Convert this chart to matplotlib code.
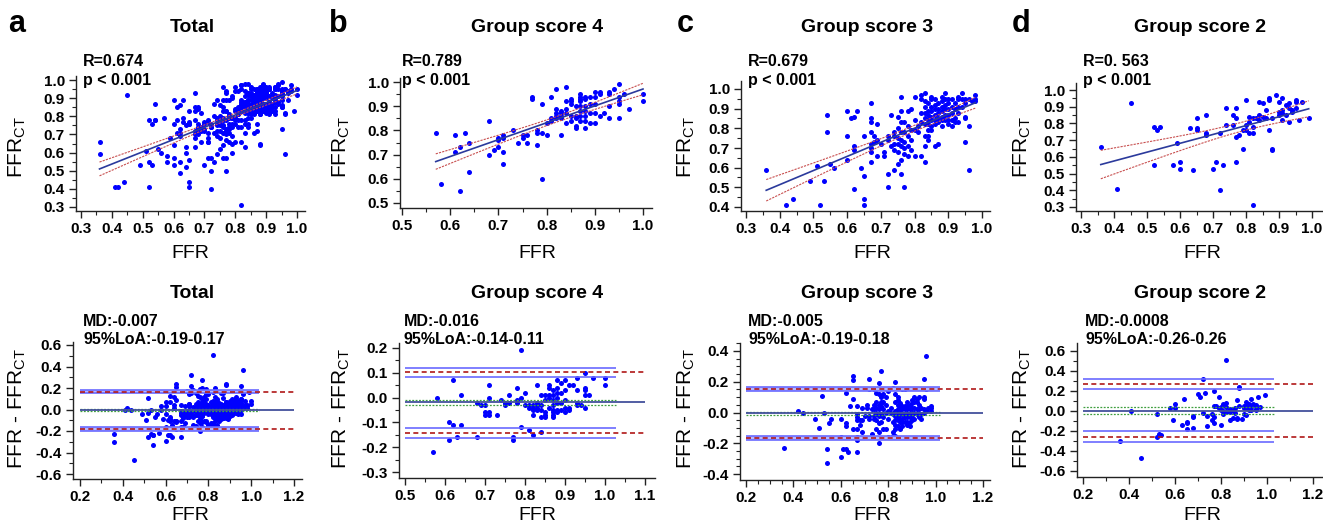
import numpy as np
import matplotlib
matplotlib.use("Agg")
from matplotlib import pyplot as plt
from matplotlib.ticker import MultipleLocator

plt.rcParams['font.family'] = ['Liberation Sans', 'DejaVu Sans']
plt.rcParams['mathtext.default'] = 'regular'

W, H = 1323, 528

# (FFR, FFRct) pairs
group4 = [(0.57, 0.79), (0.58, 0.58), (0.61, 0.78), (0.61, 0.71), (0.62, 0.73), (0.62, 0.55),
          (0.63, 0.79), (0.64, 0.75), (0.64, 0.63), (0.68, 0.84), (0.68, 0.70), (0.69, 0.72),
          (0.70, 0.77), (0.70, 0.76), (0.70, 0.73), (0.71, 0.78), (0.71, 0.77), (0.71, 0.71),
          (0.71, 0.66), (0.73, 0.80), (0.74, 0.75), (0.75, 0.78), (0.75, 0.77), (0.76, 0.78),
          (0.76, 0.75), (0.77, 0.94), (0.77, 0.93), (0.78, 0.80), (0.78, 0.79), (0.78, 0.74),
          (0.79, 0.91), (0.79, 0.79), (0.79, 0.60), (0.80, 0.83), (0.80, 0.78), (0.81, 0.94),
          (0.81, 0.85), (0.81, 0.84), (0.82, 0.97), (0.82, 0.89), (0.82, 0.87), (0.82, 0.86),
          (0.82, 0.85), (0.83, 0.88), (0.83, 0.87), (0.83, 0.86), (0.83, 0.85), (0.83, 0.78),
          (0.84, 0.98), (0.84, 0.92), (0.84, 0.89), (0.84, 0.87), (0.84, 0.83), (0.85, 0.93),
          (0.85, 0.92), (0.85, 0.91), (0.85, 0.86), (0.85, 0.84), (0.86, 0.90), (0.86, 0.86),
          (0.86, 0.85), (0.86, 0.82), (0.86, 0.81), (0.87, 0.95), (0.87, 0.94), (0.87, 0.93),
          (0.87, 0.92), (0.87, 0.90), (0.87, 0.88), (0.87, 0.86), (0.87, 0.84), (0.88, 0.94),
          (0.88, 0.93), (0.88, 0.90), (0.88, 0.88), (0.88, 0.86), (0.88, 0.84), (0.88, 0.81),
          (0.89, 0.94), (0.89, 0.91), (0.89, 0.87), (0.89, 0.83), (0.90, 0.96), (0.90, 0.94),
          (0.90, 0.91), (0.90, 0.87), (0.90, 0.83), (0.91, 0.96), (0.91, 0.95), (0.91, 0.86),
          (0.92, 0.87), (0.93, 0.96), (0.93, 0.95), (0.93, 0.90), (0.93, 0.85), (0.94, 0.97),
          (0.95, 0.99), (0.95, 0.94), (0.95, 0.92), (0.95, 0.91), (0.95, 0.85), (0.96, 0.95),
          (0.97, 0.89), (1.00, 0.95), (1.00, 0.92)]

group3 = [(0.36, 0.59), (0.42, 0.41), (0.44, 0.44), (0.49, 0.53), (0.51, 0.61), (0.52, 0.41),
          (0.53, 0.53), (0.54, 0.87), (0.54, 0.78), (0.55, 0.62), (0.56, 0.60), (0.60, 0.89),
          (0.60, 0.76), (0.60, 0.64), (0.61, 0.85), (0.62, 0.86), (0.62, 0.71), (0.62, 0.69),
          (0.62, 0.49), (0.63, 0.89), (0.64, 0.60), (0.65, 0.76), (0.65, 0.56), (0.65, 0.44),
          (0.65, 0.41), (0.67, 0.93), (0.67, 0.85), (0.67, 0.83), (0.67, 0.78), (0.67, 0.72),
          (0.67, 0.70), (0.67, 0.68), (0.67, 0.63), (0.68, 0.76), (0.68, 0.73), (0.69, 0.82),
          (0.69, 0.74), (0.69, 0.66), (0.70, 0.72), (0.71, 0.68), (0.71, 0.66), (0.72, 0.76),
          (0.72, 0.74), (0.72, 0.57), (0.72, 0.50), (0.73, 0.87), (0.73, 0.71), (0.74, 0.78),
          (0.74, 0.76), (0.74, 0.72), (0.74, 0.69), (0.74, 0.59), (0.75, 0.86), (0.75, 0.80),
          (0.75, 0.75), (0.75, 0.72), (0.75, 0.68), (0.75, 0.62), (0.76, 0.96), (0.76, 0.89),
          (0.76, 0.83), (0.76, 0.78), (0.76, 0.74), (0.76, 0.71), (0.76, 0.64), (0.76, 0.57),
          (0.77, 0.83), (0.77, 0.78), (0.77, 0.73), (0.77, 0.70), (0.77, 0.67), (0.77, 0.50),
          (0.78, 0.89), (0.78, 0.81), (0.78, 0.76), (0.78, 0.71), (0.78, 0.66), (0.79, 0.90),
          (0.79, 0.79), (0.79, 0.74), (0.79, 0.69), (0.80, 0.96), (0.80, 0.84), (0.80, 0.79),
          (0.80, 0.66), (0.81, 0.81), (0.81, 0.78), (0.82, 0.97), (0.82, 0.95), (0.82, 0.88),
          (0.82, 0.83), (0.82, 0.66), (0.83, 0.98), (0.83, 0.94), (0.83, 0.91), (0.83, 0.88),
          (0.83, 0.85), (0.83, 0.82), (0.83, 0.76), (0.83, 0.71), (0.83, 0.63), (0.84, 0.93),
          (0.84, 0.89), (0.84, 0.87), (0.84, 0.84), (0.84, 0.82), (0.84, 0.79), (0.84, 0.76),
          (0.84, 0.74), (0.85, 0.96), (0.85, 0.95), (0.85, 0.91), (0.85, 0.89), (0.85, 0.86),
          (0.85, 0.84), (0.85, 0.81), (0.85, 0.79), (0.86, 0.95), (0.86, 0.92), (0.86, 0.90),
          (0.86, 0.87), (0.86, 0.84), (0.86, 0.82), (0.86, 0.71), (0.87, 0.93), (0.87, 0.90),
          (0.87, 0.88), (0.87, 0.85), (0.87, 0.83), (0.87, 0.72), (0.88, 0.96), (0.88, 0.94),
          (0.88, 0.91), (0.88, 0.89), (0.88, 0.86), (0.88, 0.84), (0.88, 0.81), (0.89, 0.98),
          (0.89, 0.95), (0.89, 0.92), (0.89, 0.90), (0.89, 0.87), (0.89, 0.84), (0.90, 0.95),
          (0.90, 0.93), (0.90, 0.90), (0.90, 0.87), (0.90, 0.84), (0.90, 0.82), (0.91, 0.95),
          (0.91, 0.91), (0.91, 0.88), (0.91, 0.84), (0.91, 0.81), (0.92, 0.93), (0.92, 0.90),
          (0.92, 0.85), (0.92, 0.83), (0.93, 0.96), (0.93, 0.95), (0.93, 0.91), (0.93, 0.88),
          (0.93, 0.83), (0.94, 0.98), (0.94, 0.95), (0.94, 0.91), (0.95, 0.95), (0.95, 0.93),
          (0.95, 0.86), (0.95, 0.85), (0.95, 0.73), (0.96, 0.95), (0.96, 0.81), (0.96, 0.59),
          (0.97, 0.94), (0.98, 0.97), (0.98, 0.95), (0.98, 0.94)]

group2 = [(0.36, 0.66), (0.41, 0.41), (0.45, 0.92), (0.52, 0.78), (0.52, 0.55), (0.53, 0.76),
          (0.54, 0.78), (0.58, 0.55), (0.59, 0.68), (0.60, 0.57), (0.60, 0.53), (0.63, 0.77),
          (0.64, 0.52), (0.65, 0.83), (0.65, 0.77), (0.65, 0.76), (0.68, 0.85), (0.68, 0.74),
          (0.68, 0.73), (0.70, 0.53), (0.71, 0.57), (0.72, 0.74), (0.72, 0.40), (0.73, 0.55),
          (0.74, 0.89), (0.74, 0.79), (0.76, 0.85), (0.76, 0.79), (0.77, 0.89), (0.77, 0.83),
          (0.77, 0.72), (0.77, 0.57), (0.78, 0.73), (0.79, 0.76), (0.79, 0.65), (0.80, 0.94),
          (0.80, 0.79), (0.80, 0.76), (0.81, 0.84), (0.81, 0.81), (0.81, 0.74), (0.82, 0.83),
          (0.82, 0.78), (0.82, 0.74), (0.82, 0.31), (0.83, 0.83), (0.84, 0.93), (0.84, 0.85),
          (0.84, 0.82), (0.85, 0.92), (0.85, 0.84), (0.86, 0.88), (0.86, 0.83), (0.87, 0.95),
          (0.87, 0.94), (0.87, 0.76), (0.88, 0.83), (0.88, 0.65), (0.88, 0.64), (0.89, 0.97),
          (0.90, 0.93), (0.90, 0.87), (0.90, 0.85), (0.91, 0.95), (0.91, 0.88), (0.91, 0.86),
          (0.91, 0.82), (0.92, 0.91), (0.92, 0.85), (0.93, 0.92), (0.93, 0.89), (0.93, 0.81),
          (0.94, 0.88), (0.94, 0.87), (0.95, 0.94), (0.95, 0.93), (0.95, 0.89), (0.96, 0.82),
          (0.97, 0.93), (0.99, 0.83)]

letters = ['a', 'b', 'c', 'd']
titles = ['Total', 'Group score 4', 'Group score 3', 'Group score 2']
r_text = ['R=0.674', 'R=0.789', 'R=0.679', 'R=0. 563']
md_text = ['MD:-0.007', 'MD:-0.016', 'MD:-0.005', 'MD:-0.0008']
loa_text = ['95%LoA:-0.19-0.17', '95%LoA:-0.14-0.11', '95%LoA:-0.19-0.18', '95%LoA:-0.26-0.26']

# Bland-Altman reference lines
ba_mean = [-0.005, -0.019, -0.005, 0.005]
ba_mean_ci = [(-0.013, 0.003), (-0.030, -0.010), (-0.014, 0.004), (-0.027, 0.040)]
ba_upper = [0.167, 0.102, 0.154, 0.268]
ba_upper_ci = [(0.152, 0.182), (0.084, 0.121), (0.139, 0.167), (0.219, 0.318)]
ba_lower = [-0.181, -0.144, -0.165, -0.255]
ba_lower_ci = [(-0.196, -0.166), (-0.162, -0.124), (-0.178, -0.150), (-0.305, -0.202)]
ba_ci_end = [1.038, 1.027, 1.017, 1.03]
ba_shaded = [True, False, True, False]

# layout in pixels: (left, right, top, bottom) and two (value, pixel) pairs per axis
top_box = [(76, 305, 76, 211), (400, 652, 78, 208), (741, 990, 81, 211), (1076, 1323, 83, 211)]
top_xmap = [((0.3, 81), (1.0, 297)), ((0.5, 402), (1.0, 643)), ((0.3, 746), (1.0, 982)), ((0.3, 1081), (1.0, 1312))]
top_ymap = [((1.0, 80), (0.3, 207)), ((1.0, 82), (0.5, 203)), ((1.0, 89), (0.4, 207)), ((1.0, 90), (0.3, 207))]
top_xt = [(0.3, 1.0), (0.5, 1.0), (0.3, 1.0), (0.3, 1.0)]
top_yt = [(0.3, 1.0), (0.5, 1.0), (0.4, 1.0), (0.3, 1.0)]

bot_box = [(73, 302, 342, 479), (399, 655, 343, 478), (740, 990, 343, 480), (1077, 1323, 343, 477)]
bot_xmap = [((0.2, 80), (1.2, 294)), ((0.5, 405), (1.1, 645)), ((0.2, 746), (1.2, 983)), ((0.2, 1083), (1.2, 1313))]
bot_ymap = [((0.6, 345), (-0.6, 474)), ((0.2, 348), (-0.3, 472)), ((0.4, 351), (-0.4, 474)), ((0.6, 351), (-0.6, 471))]
bot_xt = [(0.2, 1.2, 0.2, 0.1), (0.5, 1.1, 0.1, 0.05), (0.2, 1.2, 0.2, 0.05), (0.2, 1.2, 0.2, 0.1)]
bot_yt = [(-0.6, 0.6, 0.2, 0.1), (-0.3, 0.2, 0.1, 0.05), (-0.4, 0.4, 0.2, 0.05), (-0.6, 0.6, 0.2, 0.1)]

ylab_x = [17, 341, 686, 1022]
xlab_x = [190, 537, 872, 1202]
title_x = [192, 537, 867, 1200]
letter_x = [8, 329, 677, 1012]
stat_top_x = [83, 402, 748, 1083]
stat_bot_x = [83, 404, 748, 1085]


def px_to_val(m, p):
    (v0, p0), (v1, p1) = m
    return v0 + (p - p0) * (v1 - v0) / (p1 - p0)


def make_axes(fig, box, xmap, ymap):
    l, r, t, b = box
    ax = fig.add_axes([l / W, 1 - b / H, (r - l) / W, (b - t) / H])
    ax.set_xlim(px_to_val(xmap, l), px_to_val(xmap, r))
    ax.set_ylim(px_to_val(ymap, b), px_to_val(ymap, t))
    for s in ['top', 'right']:
        ax.spines[s].set_visible(False)
    for s in ['left', 'bottom']:
        ax.spines[s].set_linewidth(1.0)
        ax.spines[s].set_color('#222222')
    ax.tick_params(which='major', direction='out', length=5, width=1, labelsize=11, pad=3, color='#222222')
    ax.tick_params(which='minor', direction='out', length=3, width=0.8, color='#222222')
    return ax


def ticks(lo, hi, step):
    return np.round(np.arange(lo, hi + step / 2, step), 2)


def ftext(fig, x, y, s, **kw):
    fig.text(x / W, 1 - y / H, s, **kw)


def fit_band(x, y):
    slope, icpt = np.polyfit(x, y, 1)
    n = len(x)
    resid = y - (slope * x + icpt)
    s = np.sqrt(np.sum(resid ** 2) / (n - 2))
    xs = np.linspace(x.min(), x.max(), 60)
    se = s * np.sqrt(1 / n + (xs - x.mean()) ** 2 / np.sum((x - x.mean()) ** 2))
    fit = slope * xs + icpt
    return xs, fit, fit - 1.97 * se, fit + 1.97 * se


g4 = np.array(group4)
g3 = np.array(group3)
g2 = np.array(group2)
total = np.vstack([g4, g3, g2])
datasets = [total, g4, g3, g2]

fig = plt.figure(figsize=(W / 100, H / 100), dpi=100)

for i, d in enumerate(datasets):
    ffr, ct = d[:, 0], d[:, 1]

    # correlation panel
    ax = make_axes(fig, top_box[i], top_xmap[i], top_ymap[i])
    ax.set_xticks(ticks(top_xt[i][0], top_xt[i][1], 0.1))
    ax.set_yticks(ticks(top_yt[i][0], top_yt[i][1], 0.1))
    ax.xaxis.set_minor_locator(MultipleLocator(0.05))
    ax.yaxis.set_minor_locator(MultipleLocator(0.05))
    ax.set_xticklabels(['%.1f' % v for v in ax.get_xticks()], fontweight='bold')
    ax.set_yticklabels(['%.1f' % v for v in ax.get_yticks()], fontweight='bold')
    ax.scatter(ffr, ct, s=13, color='#0000ff', linewidths=0, zorder=2)
    xs, fit, lo, hi = fit_band(ffr, ct)
    ax.plot(xs, fit, color='#2b3a9c', lw=1.2, zorder=3)
    ax.plot(xs, lo, color='#c85050', lw=0.8, ls=(0, (2, 1)), zorder=3)
    ax.plot(xs, hi, color='#c85050', lw=0.8, ls=(0, (2, 1)), zorder=3)

    ftext(fig, letter_x[i], 24, letters[i], fontsize=22, fontweight='bold', va='center', ha='left')
    ftext(fig, title_x[i], 28, titles[i], fontsize=14, fontweight='bold', va='center', ha='center')
    ftext(fig, stat_top_x[i], 61, r_text[i], fontsize=11.5, fontweight='bold', va='center', ha='left')
    ftext(fig, stat_top_x[i], 81, 'p < 0.001', fontsize=11.5, fontweight='bold', va='center', ha='left')
    ftext(fig, ylab_x[i], 147, 'FFR$_{CT}$', fontsize=15, rotation=90, va='center', ha='center')
    ftext(fig, xlab_x[i], 254, 'FFR', fontsize=14, va='center', ha='center')

    # Bland-Altman panel
    ax = make_axes(fig, bot_box[i], bot_xmap[i], bot_ymap[i])
    x0, x1, xs_, xm = bot_xt[i]
    y0, y1, ys_, ym = bot_yt[i]
    ax.set_xticks(ticks(x0, x1, xs_))
    ax.set_yticks(ticks(y0, y1, ys_))
    ax.xaxis.set_minor_locator(MultipleLocator(xm))
    ax.yaxis.set_minor_locator(MultipleLocator(ym))
    ax.set_xticklabels(['%.1f' % v for v in ax.get_xticks()], fontweight='bold')
    ax.set_yticklabels(['%.1f' % v for v in ax.get_yticks()], fontweight='bold')
    ax.scatter(ffr, ffr - ct, s=13, color='#0000ff', linewidths=0, zorder=2)

    ce = ba_ci_end[i]
    for band in [ba_upper_ci[i], ba_lower_ci[i]]:
        if ba_shaded[i]:
            ax.fill_between([x0, ce], band[0], band[1], color='#b8b8ff', lw=0, zorder=3)
        ax.hlines(band, x0, ce, color='#6a6aff', lw=1.2, zorder=3)
    ax.hlines(ba_mean_ci[i], x0, ce, color='#3f9f3f', lw=0.9, ls=(0, (1.5, 1.2)), zorder=3)
    ax.hlines(ba_mean[i], x0, x1, color='#43519c', lw=1.3, zorder=4)
    ax.hlines([ba_upper[i], ba_lower[i]], x0, x1, color='#b01818', lw=1.2, ls=(0, (3, 2)), zorder=4)

    ftext(fig, title_x[i], 293, titles[i], fontsize=14, fontweight='bold', va='center', ha='center')
    ftext(fig, stat_bot_x[i], 321, md_text[i], fontsize=11.5, fontweight='bold', va='center', ha='left')
    ftext(fig, stat_bot_x[i], 340, loa_text[i], fontsize=11.5, fontweight='bold', va='center', ha='left')
    ftext(fig, ylab_x[i], 408, 'FFR - FFR$_{CT}$', fontsize=15, rotation=90, va='center', ha='center')
    ftext(fig, xlab_x[i], 516, 'FFR', fontsize=14, va='center', ha='center')

fig.savefig('out.png', dpi=100)
